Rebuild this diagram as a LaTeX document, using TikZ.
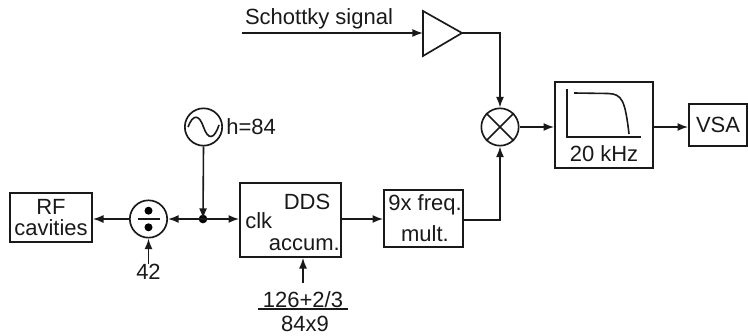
\documentclass[tikz,border=0pt]{standalone}
\usepackage{fontspec}
\setmainfont{Liberation Sans}
\usetikzlibrary{arrows.meta,calc}
\tikzset{
  wire/.style={line width=1.2pt,draw=black!90},
  flow/.style={wire,-{Latex[length=8pt,width=6pt]}},
  blockbox/.style={draw=black!90,line width=1.25pt,inner sep=0pt,rectangle},
  ring/.style={draw=black!90,line width=1.25pt,circle,inner sep=0pt,minimum size=28pt},
  lbl/.style={font=\fontsize{16.5pt}{15.5pt}\selectfont,inner sep=0pt,align=center,text=black!90},
  dotnode/.style={circle,fill=black,inner sep=0pt,minimum size=6.5pt},
}
\begin{document}
\begin{tikzpicture}[x=0.75pt,y=-0.75pt]
\useasboundingbox (0,0) rectangle (748,335);
% blocks
\node[blockbox,minimum width=61.5pt,minimum height=36.75pt,lbl] (rf) at (51,217.5) {RF\\cavities};
\node[ring] (div) at (148.5,219) {};
\node[dotnode] (junc) at (203,219) {};
\node[ring] (osc) at (203.5,127) {};
\node[lbl,anchor=west] (h) at (226,127) {h=84};
\node[blockbox,minimum width=75.75pt,minimum height=55.5pt] (dds) at (290.5,220) {};
\node[lbl] (ddsname) at (307,202) {DDS};
\node[lbl,anchor=west] (clk) at (245,221) {clk};
\node[lbl,anchor=east] (acc) at (340,245) {accum.};
\node[blockbox,minimum width=59.25pt,minimum height=42.75pt] (mult) at (423.5,218.5) {};
\node[lbl] (multa) at (425,205) {9x freq.};
\node[lbl] (multb) at (425,234) {mult.};
\node[ring] (mix) at (500,127) {};
\node[blockbox,minimum width=73.5pt,minimum height=64.5pt] (lpf) at (604,125) {};
\node[lbl] (lpft) at (604,154) {20 kHz};
\node[blockbox,minimum width=43.5pt,minimum height=31.5pt,lbl] (vsa) at (718,125) {VSA};
\node[lbl] (sch) at (319,19) {Schottky signal};
\coordinate (schin) at (242,33);
% amplifier
\coordinate (ampa) at (423,11);
\coordinate (ampb) at (423,56);
\coordinate (ampt) at (462,33);
\coordinate (ampin) at (423,33);
\draw[blockbox,line join=miter] (ampa) -- (ampt) -- (ampb) -- cycle;
% bottom labels
\node[lbl] (n42) at (148.5,272) {42};
\node[lbl] (numer) at (303,300) {126+2/3};
\node[lbl] (denom) at (305,324) {84x9};
\coordinate (fa) at (258,309);
\coordinate (fb) at (348,309);
\draw[wire] (fa) -- (fb);
% connectors
\draw[flow] (osc.south) -- (junc.center);
\draw[flow] (junc.center) -- (dds.west |- junc);
\draw[flow] (junc.center) -- (div.east);
\draw[flow] (div.west) -- (rf.east |- div);
\draw[flow] (n42.north) -- (div.south);
\coordinate (ratio) at (303,283);
\draw[flow] (ratio) -- (ratio |- dds.south);
\draw[flow] (dds.east |- 0,219) -- (mult.west |- 0,219);
\draw[flow] (mult.east |- 0,220) -| (mix.south);
\draw[flow] (schin) -- (ampin);
\draw[flow] (ampt) -| (mix.north);
\draw[flow] (mix.east) -- (lpf.west |- mix);
\draw[flow] (lpf.east |- 0,127) -- (vsa.west |- 0,127);
% divider glyph
\coordinate (dvl) at (137.5,219);
\coordinate (dvr) at (160,219);
\draw[wire] (dvl) -- (dvr);
\fill[black] (148.5,210.7) circle (3pt);
\fill[black] (148.5,227.3) circle (3pt);
% oscillator glyph
\draw[wire] (188,127) .. controls (193,114) and (199,114) .. (203.5,127) .. controls (208,140) and (214,140) .. (219,125);
% mixer glyph
\draw[blockbox] (mix.45) -- (mix.225);
\draw[blockbox] (mix.135) -- (mix.315);
% filter glyph
\coordinate (axtop) at (567,89);
\coordinate (axorg) at (567,137);
\coordinate (axend) at (641,137);
\draw[wire] (axtop) -- (axorg) -- (axend);
\draw[wire] (574,93) -- (608,93.5) .. controls (622,94) and (625,100) .. (629,134);
\end{tikzpicture}
\end{document}
